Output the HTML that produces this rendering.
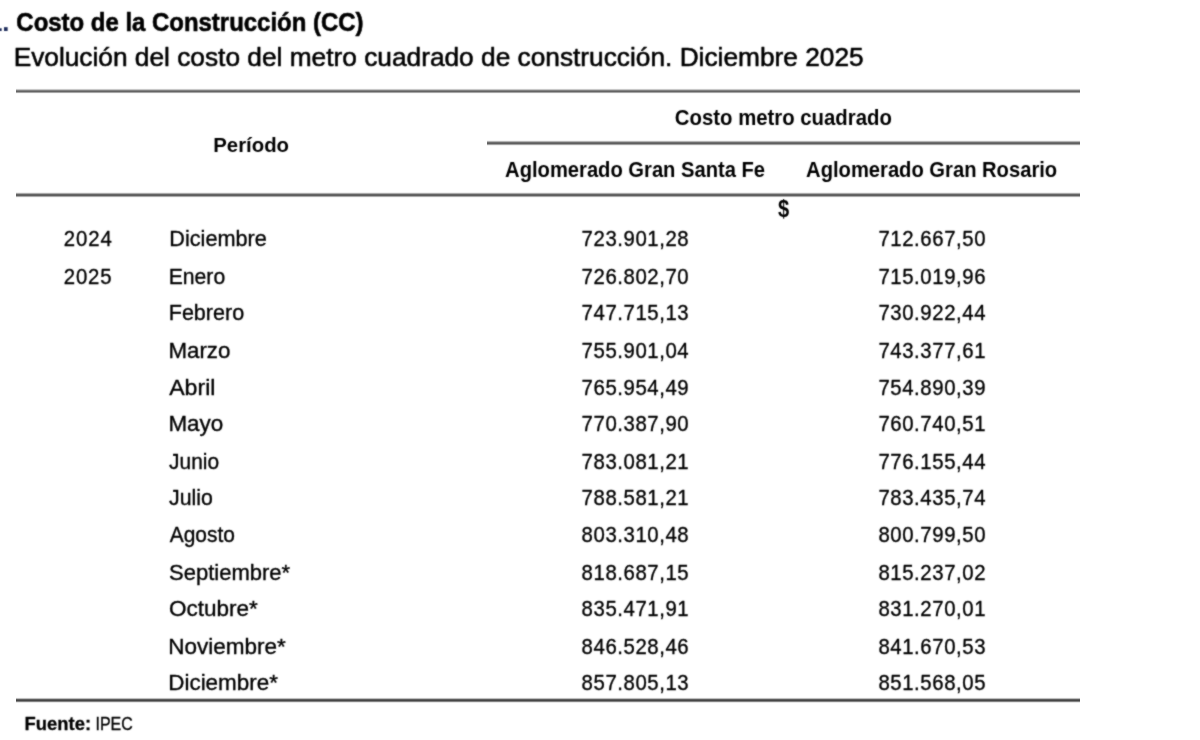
<!DOCTYPE html>
<html lang="es"><head><meta charset="utf-8"><title>Costo de la Construcción (CC)</title>
<style>
html,body{margin:0;padding:0;background:#fff;width:1200px;height:740px;overflow:hidden}
svg{display:block;font-family:"Liberation Sans",Arial,sans-serif}
text{stroke-linejoin:round}
.r{stroke:#000;stroke-width:0.35px}
.b{stroke:none}
.bt{stroke:#000;stroke-width:0.6px}
.bf{stroke:#000;stroke-width:0.3px}
.rt{stroke:#000;stroke-width:0.55px}
</style></head><body>
<svg width="1200" height="740" viewBox="0 0 1200 740">
<defs><filter id="bl" x="0" y="0" width="1200" height="740" filterUnits="userSpaceOnUse" color-interpolation-filters="sRGB"><feConvolveMatrix order="3" kernelMatrix="1 2 1 2 12 2 1 2 1" edgeMode="duplicate" preserveAlpha="false"/></filter></defs>
<rect width="1200" height="740" fill="#fff"/>
<rect x="16" y="88" width="1064" height="1" fill="#fafafa"/>
<rect x="16" y="89" width="1064" height="1" fill="#c8c8c8"/>
<rect x="16" y="90" width="1064" height="1" fill="#828282"/>
<rect x="16" y="91" width="1064" height="1" fill="#646464"/>
<rect x="16" y="92" width="1064" height="1" fill="#a5a5a5"/>
<rect x="16" y="93" width="1064" height="1" fill="#f8f8f8"/>
<rect x="487" y="140" width="593" height="1" fill="#f5f5f5"/>
<rect x="487" y="141" width="593" height="1" fill="#b4b4b4"/>
<rect x="487" y="142" width="593" height="1" fill="#6e6e6e"/>
<rect x="487" y="143" width="593" height="1" fill="#5f5f5f"/>
<rect x="487" y="144" width="593" height="1" fill="#a0a0a0"/>
<rect x="487" y="145" width="593" height="1" fill="#f0f0f0"/>
<rect x="16" y="192" width="1064" height="1" fill="#f0f0f0"/>
<rect x="16" y="193" width="1064" height="1" fill="#aaaaaa"/>
<rect x="16" y="194" width="1064" height="1" fill="#646464"/>
<rect x="16" y="195" width="1064" height="1" fill="#5f5f5f"/>
<rect x="16" y="196" width="1064" height="1" fill="#aaaaaa"/>
<rect x="16" y="197" width="1064" height="1" fill="#f5f5f5"/>
<rect x="16" y="697" width="1064" height="1" fill="#fafafa"/>
<rect x="16" y="698" width="1064" height="1" fill="#bebebe"/>
<rect x="16" y="699" width="1064" height="1" fill="#5f5f5f"/>
<rect x="16" y="700" width="1064" height="1" fill="#464646"/>
<rect x="16" y="701" width="1064" height="1" fill="#828282"/>
<rect x="16" y="702" width="1064" height="1" fill="#e6e6e6"/>
<g filter="url(#bl)">
<text x="-12.1" y="31" font-size="25.9" font-weight="bold" fill="#1f2d5c">1.</text>
<text x="16.35" y="30.8" font-size="25.9" font-weight="bold" class="bt" fill="#000" textLength="347.11" lengthAdjust="spacingAndGlyphs">Costo de la Construcción (CC)</text>
<text x="13.65" y="65.8" font-size="26.4" class="rt" fill="#000" textLength="850.02" lengthAdjust="spacingAndGlyphs">Evolución del costo del metro cuadrado de construcción. Diciembre 2025</text>
<text x="674.86" y="125.2" font-size="21.3" font-weight="bold" class="b" fill="#000" textLength="217.0" lengthAdjust="spacingAndGlyphs">Costo metro cuadrado</text>
<text x="213.23" y="151.7" font-size="21.0" font-weight="bold" class="b" fill="#000" textLength="75.84" lengthAdjust="spacingAndGlyphs">Período</text>
<text x="505.08" y="176.8" font-size="21.2" font-weight="bold" class="b" fill="#000" textLength="260.02" lengthAdjust="spacingAndGlyphs">Aglomerado Gran Santa Fe</text>
<text x="806.08" y="176.8" font-size="21.2" font-weight="bold" class="b" fill="#000" textLength="251.08" lengthAdjust="spacingAndGlyphs">Aglomerado Gran Rosario</text>
<text x="778.0" y="217.0" font-size="24.5" font-weight="bold" class="b" fill="#000" textLength="11.19" lengthAdjust="spacingAndGlyphs">$</text>
<text transform="translate(63.74 246.0) scale(0.93 1)" x="0.0" y="0" font-size="21.9" class="r" fill="#000" textLength="51.72" lengthAdjust="spacing">2024</text>
<text transform="translate(63.74 283.6) scale(0.93 1)" x="0.0" y="0" font-size="21.9" class="r" fill="#000" textLength="51.48" lengthAdjust="spacing">2025</text>
<text x="169.31" y="246.0" font-size="21.9" class="r" fill="#000" textLength="97.57" lengthAdjust="spacingAndGlyphs">Diciembre</text>
<text transform="translate(581.6 246.0) scale(0.93 1)" x="0.0" y="0" font-size="21.9" class="r" fill="#000" textLength="115.16" lengthAdjust="spacing">723.901,28</text>
<text transform="translate(878.4 246.0) scale(0.93 1)" x="0.0" y="0" font-size="21.9" class="r" fill="#000" textLength="115.16" lengthAdjust="spacing">712.667,50</text>
<text x="168.75" y="283.6" font-size="21.9" class="r" fill="#000" textLength="56.41" lengthAdjust="spacingAndGlyphs">Enero</text>
<text transform="translate(581.6 283.6) scale(0.93 1)" x="0.0" y="0" font-size="21.9" class="r" fill="#000" textLength="115.16" lengthAdjust="spacing">726.802,70</text>
<text transform="translate(878.4 283.6) scale(0.93 1)" x="0.0" y="0" font-size="21.9" class="r" fill="#000" textLength="115.16" lengthAdjust="spacing">715.019,96</text>
<text x="168.72" y="319.9" font-size="21.9" class="r" fill="#000" textLength="75.46" lengthAdjust="spacingAndGlyphs">Febrero</text>
<text transform="translate(581.6 319.9) scale(0.93 1)" x="0.0" y="0" font-size="21.9" class="r" fill="#000" textLength="115.16" lengthAdjust="spacing">747.715,13</text>
<text transform="translate(878.4 319.9) scale(0.93 1)" x="0.0" y="0" font-size="21.9" class="r" fill="#000" textLength="115.16" lengthAdjust="spacing">730.922,44</text>
<text x="168.46" y="357.6" font-size="21.9" class="r" fill="#000" textLength="61.95" lengthAdjust="spacingAndGlyphs">Marzo</text>
<text transform="translate(581.6 357.6) scale(0.93 1)" x="0.0" y="0" font-size="21.9" class="r" fill="#000" textLength="115.16" lengthAdjust="spacing">755.901,04</text>
<text transform="translate(878.4 357.6) scale(0.93 1)" x="0.0" y="0" font-size="21.9" class="r" fill="#000" textLength="115.16" lengthAdjust="spacing">743.377,61</text>
<text x="169.2" y="395.0" font-size="21.9" class="r" fill="#000" textLength="46.22" lengthAdjust="spacingAndGlyphs">Abril</text>
<text transform="translate(581.6 395.0) scale(0.93 1)" x="0.0" y="0" font-size="21.9" class="r" fill="#000" textLength="115.16" lengthAdjust="spacing">765.954,49</text>
<text transform="translate(878.4 395.0) scale(0.93 1)" x="0.0" y="0" font-size="21.9" class="r" fill="#000" textLength="115.16" lengthAdjust="spacing">754.890,39</text>
<text x="168.45" y="431.0" font-size="21.9" class="r" fill="#000" textLength="54.86" lengthAdjust="spacingAndGlyphs">Mayo</text>
<text transform="translate(581.6 431.0) scale(0.93 1)" x="0.0" y="0" font-size="21.9" class="r" fill="#000" textLength="115.16" lengthAdjust="spacing">770.387,90</text>
<text transform="translate(878.4 431.0) scale(0.93 1)" x="0.0" y="0" font-size="21.9" class="r" fill="#000" textLength="115.16" lengthAdjust="spacing">760.740,51</text>
<text x="169.07" y="469.0" font-size="21.9" class="r" fill="#000" textLength="49.97" lengthAdjust="spacingAndGlyphs">Junio</text>
<text transform="translate(581.6 469.0) scale(0.93 1)" x="0.0" y="0" font-size="21.9" class="r" fill="#000" textLength="115.16" lengthAdjust="spacing">783.081,21</text>
<text transform="translate(878.4 469.0) scale(0.93 1)" x="0.0" y="0" font-size="21.9" class="r" fill="#000" textLength="115.16" lengthAdjust="spacing">776.155,44</text>
<text x="169.07" y="504.8" font-size="21.9" class="r" fill="#000" textLength="43.8" lengthAdjust="spacingAndGlyphs">Julio</text>
<text transform="translate(581.6 504.8) scale(0.93 1)" x="0.0" y="0" font-size="21.9" class="r" fill="#000" textLength="115.16" lengthAdjust="spacing">788.581,21</text>
<text transform="translate(878.4 504.8) scale(0.93 1)" x="0.0" y="0" font-size="21.9" class="r" fill="#000" textLength="115.16" lengthAdjust="spacing">783.435,74</text>
<text x="169.7" y="542.2" font-size="21.9" class="r" fill="#000" textLength="65.15" lengthAdjust="spacingAndGlyphs">Agosto</text>
<text transform="translate(581.6 542.2) scale(0.93 1)" x="0.0" y="0" font-size="21.9" class="r" fill="#000" textLength="115.16" lengthAdjust="spacing">803.310,48</text>
<text transform="translate(878.4 542.2) scale(0.93 1)" x="0.0" y="0" font-size="21.9" class="r" fill="#000" textLength="115.16" lengthAdjust="spacing">800.799,50</text>
<text x="169.11" y="580.4" font-size="21.9" class="r" fill="#000" textLength="121.0" lengthAdjust="spacingAndGlyphs">Septiembre*</text>
<text transform="translate(581.6 580.4) scale(0.93 1)" x="0.0" y="0" font-size="21.9" class="r" fill="#000" textLength="115.16" lengthAdjust="spacing">818.687,15</text>
<text transform="translate(878.4 580.4) scale(0.93 1)" x="0.0" y="0" font-size="21.9" class="r" fill="#000" textLength="115.16" lengthAdjust="spacing">815.237,02</text>
<text x="168.94" y="616.2" font-size="21.9" class="r" fill="#000" textLength="88.87" lengthAdjust="spacingAndGlyphs">Octubre*</text>
<text transform="translate(581.6 616.2) scale(0.93 1)" x="0.0" y="0" font-size="21.9" class="r" fill="#000" textLength="115.16" lengthAdjust="spacing">835.471,91</text>
<text transform="translate(878.4 616.2) scale(0.93 1)" x="0.0" y="0" font-size="21.9" class="r" fill="#000" textLength="115.16" lengthAdjust="spacing">831.270,01</text>
<text x="168.24" y="654.0" font-size="21.9" class="r" fill="#000" textLength="117.58" lengthAdjust="spacingAndGlyphs">Noviembre*</text>
<text transform="translate(581.6 654.0) scale(0.93 1)" x="0.0" y="0" font-size="21.9" class="r" fill="#000" textLength="115.16" lengthAdjust="spacing">846.528,46</text>
<text transform="translate(878.4 654.0) scale(0.93 1)" x="0.0" y="0" font-size="21.9" class="r" fill="#000" textLength="115.16" lengthAdjust="spacing">841.670,53</text>
<text x="168.25" y="690.2" font-size="21.9" class="r" fill="#000" textLength="109.67" lengthAdjust="spacingAndGlyphs">Diciembre*</text>
<text transform="translate(581.6 690.2) scale(0.93 1)" x="0.0" y="0" font-size="21.9" class="r" fill="#000" textLength="115.16" lengthAdjust="spacing">857.805,13</text>
<text transform="translate(878.4 690.2) scale(0.93 1)" x="0.0" y="0" font-size="21.9" class="r" fill="#000" textLength="115.16" lengthAdjust="spacing">851.568,05</text>
<text x="24.55" y="730.3" font-size="19.2" font-weight="bold" class="bf" fill="#000" textLength="66.48" lengthAdjust="spacingAndGlyphs">Fuente:</text>
<text x="95.5" y="730.4" font-size="19.2" class="r" fill="#000" textLength="37.3" lengthAdjust="spacingAndGlyphs">IPEC</text>
</g>
</svg>
</body></html>
